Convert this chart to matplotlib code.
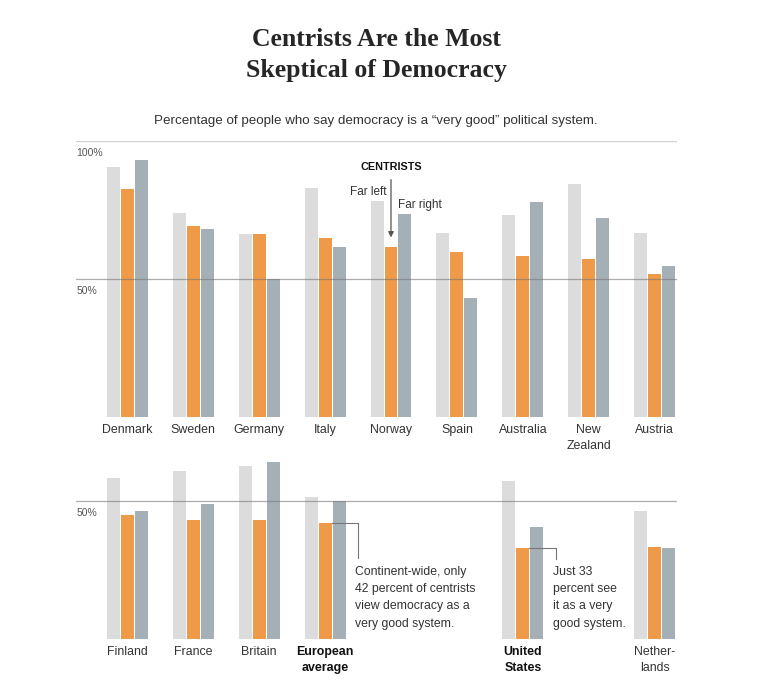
import numpy as np
import matplotlib
matplotlib.use("Agg")
import matplotlib.pyplot as plt

# top row
top_names = ["Denmark", "Sweden", "Germany", "Italy", "Norway", "Spain",
             "Australia", "New\nZealand", "Austria"]
top_left = [90.4, 73.9, 66.2, 83.0, 78.2, 66.8, 73.2, 84.5, 66.6]
top_center = [82.6, 69.2, 66.1, 64.8, 61.4, 59.9, 58.3, 57.3, 51.7]
top_right = [93.2, 68.1, 50.1, 61.6, 73.6, 43.0, 78.0, 72.0, 54.7]

# bottom row (slot = column position in the 9-column grid)
bot_names = ["Finland", "France", "Britain", "European\naverage",
             "United\nStates", "Nether-\nlands"]
bot_slots = [0, 1, 2, 3, 6, 8]
bot_bold = [False, False, False, True, True, False]
bot_left = [58.4, 61.1, 62.7, 51.5, 57.2, 46.5]
bot_center = [44.8, 43.2, 43.1, 42.0, 33.0, 33.3]
bot_right = [46.4, 48.9, 64.3, 50.2, 40.8, 33.0]

C_LEFT = "#dcdcdc"
C_CENTER = "#ee9a48"
C_RIGHT = "#a5b0b6"
TXT = "#333333"
SANS = "Liberation Sans"

W, H = 777, 696
fig = plt.figure(figsize=(W / 100, H / 100), dpi=100)

bw = 0.197
off = 0.212


def px_axes(x0, x1, y_top, y_bot):
    return fig.add_axes([x0 / W, 1 - y_bot / H, (x1 - x0) / W, (y_bot - y_top) / H])


def draw_bars(ax, xs, left, center, right):
    xs = np.asarray(xs, dtype=float)
    ax.bar(xs - off, left, bw, color=C_LEFT, zorder=2)
    ax.bar(xs, center, bw, color=C_CENTER, zorder=2)
    ax.bar(xs + off, right, bw, color=C_RIGHT, zorder=2)


def style(ax):
    ax.set_xlim(-0.78, 8.34)
    for s in ax.spines.values():
        s.set_visible(False)
    ax.set_xticks([])
    ax.set_yticks([])
    ax.patch.set_alpha(0)


# ---- top panel
ax1 = px_axes(76, 677, 141, 416.7)
ax1.set_ylim(0, 100)
style(ax1)
x_top = np.arange(len(top_names))
draw_bars(ax1, x_top, top_left, top_center, top_right)
ax1.axhline(100, color="#d0d0d0", lw=1, zorder=1)
ax1.axhline(50, color="#777777", lw=0.9, alpha=0.6, zorder=3)
ax1.text(-0.77, 97.5, "100%", fontsize=7.5, color="#555555", family=SANS, va="top")
ax1.text(-0.77, 47.5, "50%", fontsize=7.5, color="#555555", family=SANS, va="top")
for x, n in zip(x_top, top_names):
    ax1.text(x, -2.5, n, ha="center", va="top", fontsize=8.9, color=TXT,
             family=SANS, linespacing=1.5)

# Norway callouts
ax1.text(4, 90.5, "CENTRISTS", ha="center", va="center", fontsize=7.8,
         fontweight="bold", color="#111111", family=SANS)
ax1.annotate("", xy=(4, 64.0), xytext=(4, 87.0),
             arrowprops=dict(arrowstyle="-|>", color="#555555", lw=0.9,
                             mutation_scale=8))
ax1.text(3.93, 81.5, "Far left", ha="right", va="center", fontsize=8.5,
         color=TXT, family=SANS)
ax1.text(4.11, 76.8, "Far right", ha="left", va="center", fontsize=8.5,
         color=TXT, family=SANS)

# ---- bottom panel
ax2 = px_axes(76, 677, 639 - 65 * 2.757, 639)
ax2.set_ylim(0, 65)
style(ax2)
draw_bars(ax2, bot_slots, bot_left, bot_center, bot_right)
ax2.axhline(50, color="#777777", lw=0.9, alpha=0.6, zorder=3)
ax2.text(-0.77, 47.5, "50%", fontsize=7.5, color="#555555", family=SANS, va="top")
for x, n, b in zip(bot_slots, bot_names, bot_bold):
    ax2.text(x, -2.5, n, ha="center", va="top", fontsize=8.9,
             color="#111111" if b else TXT, family=SANS,
             fontweight="bold" if b else "normal", linespacing=1.5)

# callout lines
eu_i, us_i = 3, 4
ax2.plot([bot_slots[eu_i] + 0.1, 3.5, 3.5],
         [bot_center[eu_i], bot_center[eu_i], 29.3],
         color="#777777", lw=0.8, zorder=4)
ax2.plot([bot_slots[us_i] + 0.1, 6.5, 6.5],
         [bot_center[us_i], bot_center[us_i], 29.0],
         color="#777777", lw=0.8, zorder=4)
ax2.text(3.46, 26.5, "Continent-wide, only\n42 percent of centrists\nview democracy as a\nvery good system.",
         ha="left", va="top", fontsize=8.8, color=TXT, family=SANS, linespacing=1.58)
ax2.text(6.46, 26.5, "Just 33\npercent see\nit as a very\ngood system.",
         ha="left", va="top", fontsize=8.8, color=TXT, family=SANS, linespacing=1.58)

# ---- titles
fig.text(376 / W, 1 - 39 / H, "Centrists Are the Most", ha="center", va="center",
         fontsize=18.5, fontweight="bold", family="Liberation Serif", color="#262626")
fig.text(376 / W, 1 - 71 / H, "Skeptical of Democracy", ha="center", va="center",
         fontsize=18.5, fontweight="bold", family="Liberation Serif", color="#262626")
fig.text(376 / W, 1 - 121 / H,
         "Percentage of people who say democracy is a \u201cvery good\u201d political system.",
         ha="center", va="center", fontsize=9.6, color=TXT, family=SANS)

fig.savefig("out.png", dpi=100, facecolor="white")
